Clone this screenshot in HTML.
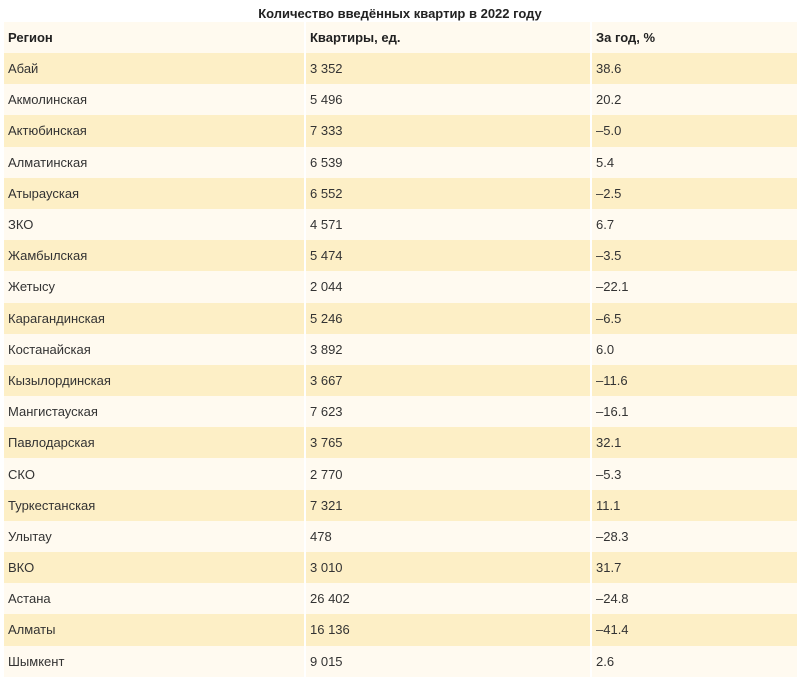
<!DOCTYPE html>
<html><head><meta charset="utf-8"><style>
body{margin:0;width:800px;height:677px;background:#fff;font-family:"Liberation Sans","DejaVu Sans",sans-serif;overflow:hidden}
h1{margin:0;position:absolute;top:5px;left:0;width:800px;text-align:center;font-size:13px;font-weight:bold;color:#222;line-height:18px}
table{position:absolute;top:22px;left:4px;width:793px;border-collapse:collapse;table-layout:fixed;font-size:13px;color:#333}
td,th{padding:0 0 0 4px;text-align:left;height:31.2px;border-left:2px solid #fff;white-space:nowrap}
td:first-child,th:first-child{border-left:none}
th{font-weight:bold;color:#222;background:#fffaef;height:31px}
tr.o td{background:#fdefc6}
tr.e td{background:#fffaf0}
</style></head><body>
<h1>Количество введённых квартир в 2022 году</h1>
<table>
<colgroup><col style="width:301px"><col style="width:286px"><col style="width:206px"></colgroup>
<thead><tr><th>Регион</th><th>Квартиры, ед.</th><th>За год, %</th></tr></thead>
<tbody id="tb"></tbody>
</table>
<script>
const regions=["Абай","Акмолинская","Актюбинская","Алматинская","Атырауская","ЗКО","Жамбылская","Жетысу","Карагандинская","Костанайская","Кызылординская","Мангистауская","Павлодарская","СКО","Туркестанская","Улытау","ВКО","Астана","Алматы","Шымкент"];
const apartments=["3 352","5 496","7 333","6 539","6 552","4 571","5 474","2 044","5 246","3 892","3 667","7 623","3 765","2 770","7 321","478","3 010","26 402","16 136","9 015"];
const yoy=["38.6","20.2","–5.0","5.4","–2.5","6.7","–3.5","–22.1","–6.5","6.0","–11.6","–16.1","32.1","–5.3","11.1","–28.3","31.7","–24.8","–41.4","2.6"];
const tb=document.getElementById('tb');
regions.forEach((r,i)=>{
  const tr=document.createElement('tr');
  tr.className=i%2?'e':'o';
  
  
  [r,apartments[i],yoy[i]].forEach((v,j)=>{
    const td=document.createElement('td');
    td.textContent=v;
    
    
    tr.appendChild(td);
  });
  tb.appendChild(tr);
});
</script>
</body></html>
